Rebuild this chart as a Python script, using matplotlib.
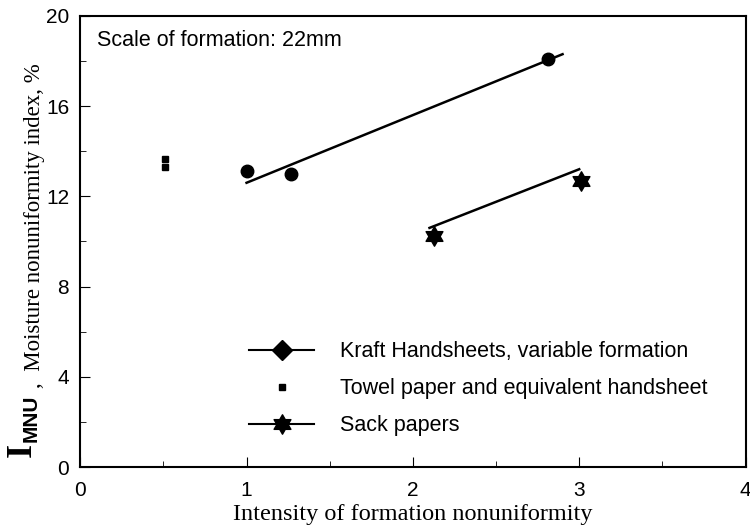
import numpy as np
import matplotlib
matplotlib.use("Agg")
import matplotlib.pyplot as plt
from matplotlib.path import Path
from matplotlib.lines import Line2D

# data
kraft_x = [1.00, 1.27, 2.81]
kraft_y = [13.1, 13.0, 18.1]
kraft_fit_x = [1.00, 2.90]
kraft_fit_y = [12.6, 18.3]

towel_x = [0.51, 0.51]
towel_y = [13.65, 13.3]

sack_x = [2.13, 3.01]
sack_y = [10.25, 12.7]
sack_fit_x = [2.10, 3.00]
sack_fit_y = [10.6, 13.2]

legend_labels = ["Kraft Handsheets, variable formation",
                 "Towel paper and equivalent handsheet",
                 "Sack papers"]

# six pointed star (two triangles) as a marker path
ang = np.deg2rad(90 + 30 * np.arange(12))
rad = np.where(np.arange(12) % 2 == 0, 1.0, 0.577)
verts = np.column_stack([rad * np.cos(ang), rad * np.sin(ang)])
verts = np.vstack([verts, verts[0]])
hexagram = Path(verts, [Path.MOVETO] + [Path.LINETO] * 11 + [Path.CLOSEPOLY])

plt.rcParams['font.family'] = ['Liberation Sans', 'DejaVu Sans']

fig = plt.figure(figsize=(7.5, 5.28), dpi=100)
ax = fig.add_axes([0.107, 0.1155, 0.887, 0.8545])

ax.plot(kraft_fit_x, kraft_fit_y, color='black', lw=1.8)
ax.plot(kraft_x, kraft_y, 'o', color='black', ms=9)
ax.plot(towel_x, towel_y, 's', color='black', ms=4)
ax.plot(sack_fit_x, sack_fit_y, color='black', lw=1.8)
ax.plot(sack_x, sack_y, ls='none', marker=hexagram, color='black', ms=14)

ax.set_xlim(0, 4)
ax.set_ylim(0, 20)
ax.set_xticks([0, 1, 2, 3, 4])
ax.set_xticks(np.arange(0.5, 4, 1), minor=True)
ax.set_yticks([0, 4, 8, 12, 16, 20])
ax.set_yticks(np.arange(2, 20, 4), minor=True)
ax.tick_params(which='both', direction='in', labelsize=15)
ax.tick_params(which='major', length=7)
ax.tick_params(which='minor', length=4)
ax.tick_params(axis='y', pad=8)
ax.tick_params(axis='x', pad=10)
for s in ax.spines.values():
    s.set_linewidth(1.5)

ax.text(0.1, 18.9, "Scale of formation: 22mm", fontsize=15.5, va='center')

handles = [Line2D([], [], color='black', lw=1.5, marker='D', ms=10),
           Line2D([], [], color='black', ls='none', marker='s', ms=4),
           Line2D([], [], color='black', lw=1.5, marker=hexagram, ms=14)]
ax.legend(handles, legend_labels, loc='upper left', bbox_to_anchor=(0.225, 0.322),
          frameon=False, fontsize=15.5, handlelength=3.0, labelspacing=0.75,
          handletextpad=1.2)

ax.set_xlabel("Intensity of formation nonuniformity", family='Liberation Serif',
              fontsize=17.5, labelpad=3)

# y label made of three parts
fig.text(0.029, 0.148, "I", family='Liberation Serif', fontsize=26, fontweight='bold',
         rotation=90, ha='center', va='center')
fig.text(0.041, 0.208, "MNU", family='Liberation Sans', fontsize=15, fontweight='bold',
         rotation=90, ha='center', va='center')
fig.text(0.046, 0.265, ",  Moisture nonuniformity index, %", family='Liberation Serif',
         fontsize=16.5, rotation=90, ha='center', va='bottom')

fig.savefig("out.png", dpi=100)
